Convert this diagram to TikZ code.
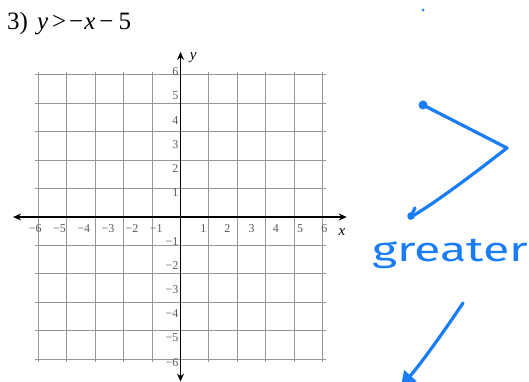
\documentclass[tikz,border=0pt]{standalone}
\usepackage{fontspec}
\usepackage{graphicx}
\setmainfont{Liberation Serif}
\newfontfamily\handfont{Fira Sans}
\usetikzlibrary{arrows.meta}
\definecolor{gridgray}{HTML}{969696}
\definecolor{labgray}{HTML}{5A5A5A}
\definecolor{handblue}{HTML}{1A7DF5}
\begin{document}
\begin{tikzpicture}[x=1pt,y=-1pt,
  gridline/.style={draw=gridgray, line width=1pt},
  axisline/.style={draw=black, line width=1.3pt, {Stealth[length=8pt,width=7pt]}-{Stealth[length=8pt,width=7pt]}},
  ticklab/.style={font=\fontsize{12}{12}\selectfont, text=labgray, inner sep=0pt},
  axislab/.style={font=\fontsize{15}{15}\selectfont\itshape, inner sep=0pt},
  ink/.style={draw=handblue, line width=3.2pt, line cap=round, line join=round},
]
\useasboundingbox (0,0) rectangle (529,382);
\clip (0,0) rectangle (529,382);
\node[anchor=base west, inner sep=0pt, font=\fontsize{25}{25}\selectfont] (title) at (7,30)
  {3)\hspace{9pt}\textit{y}\kern4pt>\kern3pt−\kern1pt\textit{x}\kern4pt−\kern5pt5};
\begin{scope}[shift={(180.5pt,-217pt)}, x=24.2pt, y=24.2pt]
  \draw[gridline] (-6,-6) grid (6,6);
  \coordinate (xl) at (-6.92,0);
  \coordinate (xr) at (6.87,0);
  \coordinate (yt) at (0,6.82);
  \coordinate (yb) at (0,-6.8);
  \draw[axisline] (xl) -- (xr);
  \draw[axisline] (yb) -- (yt);
  \foreach \i in {1,...,6}{
    \node[ticklab] (xp\i) at (\i-0.06,-0.47) {\i};
    \node[ticklab] (xn\i) at (-\i,-0.47) {−\i};
    \node[ticklab, anchor=east] (yp\i) at (-0.08,\i) {\i};
    \node[ticklab, anchor=east] (yn\i) at (-0.08,-\i) {−\i};
  }
  \node[axislab] (xlab) at (6.67,-0.62) {x};
  \node[axislab] (ylab) at (0.52,6.57) {y};
\end{scope}
% handwriting
\fill[handblue] (423,10) circle (1.5);
\fill[handblue] (423,105) circle (4.5);
\draw[ink] (423,105) -- (507,148) .. controls (485,165) and (440,200) .. (411,217);
\draw[ink] (415,208) -- (410,218);
\fill[handblue] (411,216) circle (3.8);
\node[text=handblue, anchor=base west, inner sep=0pt] (word) at (372,261)
  {\scalebox{1.42}[1]{\handfont\fontsize{34}{34}\selectfont greater}};
\coordinate (arrS) at (463,303);
\coordinate (arrE) at (401,386);
\draw[ink, -{Triangle[length=14pt,width=16pt]}] (arrS) .. controls (445,330) and (420,365) .. (arrE);
\end{tikzpicture}
\end{document}
